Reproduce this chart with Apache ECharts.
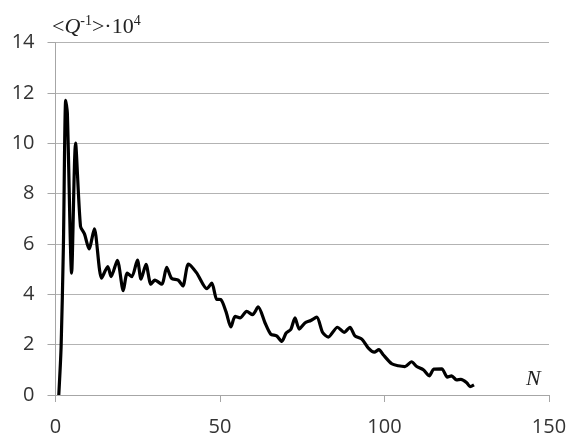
<!DOCTYPE html>
<html>
<head>
<meta charset="utf-8">
<script src="https://cdn.jsdelivr.net/npm/echarts@6/dist/echarts.min.js"></script>
<style>html,body{margin:0;padding:0;background:#fff}#c{width:568px;height:436px}</style>
</head>
<body>
<div id="c"></div>
<script>
// N values (x) and <Q^-1>*10^4 values (y)
var nValues = [1,1.7,2.4,3.1,3.6,4.9,6.1,7.6,8.8,10.2,11.8,14.0,15.9,16.9,18.8,20.6,21.8,23.2,24.9,26,27.5,29,30.2,32.3,33.8,35.3,37.3,38.7,40.4,42.9,46,47.5,49,50.2,51.8,53.3,54.6,56.1,58.1,59.9,61.6,63.7,65.4,67.2,68.8,70.1,71.5,72.8,74.1,75.8,77.6,79.4,81.2,82.9,85.7,87.7,89.5,91,93.1,95.1,96.9,98.3,99.6,102.2,104.2,106.2,108.2,109.8,111.8,113.6,115,117.4,119.1,120.4,121.9,123.2,125,126,127.2];
var qValues = [0,1.9,5.9,11.7,11.2,4.84,10.0,6.7,6.4,5.8,6.6,4.64,5.1,4.7,5.35,4.14,4.84,4.7,5.36,4.6,5.19,4.4,4.56,4.4,5.07,4.63,4.56,4.33,5.2,4.85,4.22,4.44,3.8,3.79,3.32,2.7,3.12,3.06,3.32,3.19,3.5,2.86,2.42,2.35,2.13,2.46,2.6,3.06,2.62,2.86,2.96,3.09,2.48,2.3,2.69,2.49,2.69,2.35,2.22,1.86,1.7,1.8,1.6,1.24,1.16,1.13,1.32,1.13,1.0,0.76,1.03,1.04,0.71,0.76,0.6,0.62,0.49,0.33,0.4];
var xTicks = [0, 50, 100, 150];
var yTicks = [0, 2, 4, 6, 8, 10, 12, 14];

var data = nValues.map(function (n, i) { return [n, qValues[i]]; });
var chart = echarts.init(document.getElementById('c'), null, {renderer: 'canvas'});
var labelFont = {fontFamily: 'Open Sans', fontSize: 20, color: '#333333'};
chart.setOption({
  animation: false,
  backgroundColor: '#fff',
  grid: {left: 55.5, right: 19, top: 42.5, bottom: 41, containLabel: false, outerBoundsMode: 'none'},
  xAxis: {
    type: 'value', min: xTicks[0], max: xTicks[xTicks.length - 1], interval: 50,
    axisLine: {show: true, lineStyle: {color: '#a6a6a6', width: 1}},
    axisTick: {show: true, length: 7, lineStyle: {color: '#a6a6a6'}},
    splitLine: {show: false},
    axisLabel: Object.assign({margin: 22}, labelFont)
  },
  yAxis: {
    type: 'value', min: yTicks[0], max: yTicks[yTicks.length - 1], interval: 2,
    axisLine: {show: true, lineStyle: {color: '#a6a6a6', width: 1}},
    axisTick: {show: true, length: 8, lineStyle: {color: '#a6a6a6'}},
    splitLine: {show: true, lineStyle: {color: '#b3b3b3', width: 1}},
    axisLabel: Object.assign({margin: 21}, labelFont)
  },
  series: [{
    type: 'line', data: data, smooth: 0.25, showSymbol: false,
    lineStyle: {color: '#000', width: 3.2}
  }],
  graphic: [
    {type: 'text', left: 52, top: 14, style: {
      rich: {
        n: {fontFamily: 'Liberation Serif', fontSize: 22, fill: '#222', lineHeight: 24, verticalAlign: 'bottom'},
        i: {fontFamily: 'Liberation Serif', fontStyle: 'italic', fontSize: 22, fill: '#222', lineHeight: 24, verticalAlign: 'bottom'},
        s: {fontFamily: 'Liberation Serif', fontSize: 14, fill: '#222', lineHeight: 24, verticalAlign: 'top'}
      },
      text: '{n|<}{i|Q}{s|-1}{n|>·10}{s|4}'
    }},
    {type: 'text', left: 526, top: 368, style: {
      text: 'N', fontFamily: 'Liberation Serif', fontStyle: 'italic', fontSize: 22, fill: '#222'
    }}
  ]
});
</script>
</body>
</html>
